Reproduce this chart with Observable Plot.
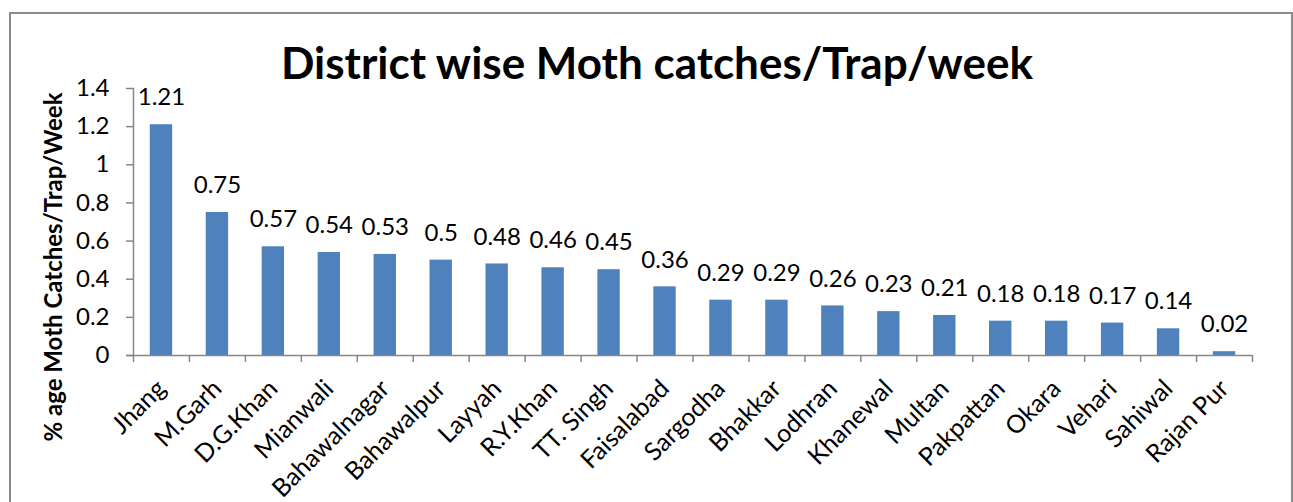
<!DOCTYPE html>
<html><head><meta charset="utf-8">
<script src="https://cdn.jsdelivr.net/npm/d3@7"></script>
<script src="https://cdn.jsdelivr.net/npm/@observablehq/plot@0.6"></script>
<style>
body{margin:0;background:#fff;}
#wrap{position:relative;width:1293px;height:502px;overflow:hidden;background:#fff;}
#frame{position:absolute;left:9px;top:12px;width:1284px;height:600px;border:2px solid #8c8c8c;box-sizing:border-box;pointer-events:none;}
#chart{position:absolute;left:0;top:0;}
</style></head><body>
<div id="wrap"><div id="chart"></div><div id="frame"></div></div>
<script>
const districts = ["Jhang","M.Garh","D.G.Khan","Mianwali","Bahawalnagar","Bahawalpur","Layyah","R.Y.Khan","TT. Singh","Faisalabad","Sargodha","Bhakkar","Lodhran","Khanewal","Multan","Pakpattan","Okara","Vehari","Sahiwal","Rajan Pur"];
const values = [1.21,0.75,0.57,0.54,0.53,0.5,0.48,0.46,0.45,0.36,0.29,0.29,0.26,0.23,0.21,0.18,0.18,0.17,0.14,0.02];
const yTicks = [0,0.2,0.4,0.6,0.8,1,1.2,1.4];
const title = "District wise Moth catches/Trap/week";
const yLabel = "% age Moth Catches/Trap/Week";

const data = districts.map((d,i)=>({district:d, value:values[i]}));
const W = 1293, H = 502, mL = 133, mR = 41, mT = 88, mB = 147;
const step = (W - mL - mR) / districts.length;
const axisColor = "#868686";
const font = "Lato, 'Open Sans', sans-serif";

const chart = Plot.plot({
  width: W, height: H,
  marginLeft: mL, marginRight: mR, marginTop: mT, marginBottom: mB,
  style: {fontFamily: font, fontSize: "24px", color: "#000", background: "transparent", overflow: "visible"},
  x: {domain: districts, paddingInner: 0.6, paddingOuter: 0.3, round: false, label: null},
  y: {domain: [0, 1.4], label: null},
  marks: [
    Plot.barY(data, {x: "district", y: "value", fill: "#4F81BD"}),
    Plot.text(data, {x: "district", y: "value", text: d => String(d.value), dy: -27, fontSize: 24, fill: "#000"}),
    Plot.frame({anchor: "left", stroke: axisColor, strokeWidth: 1.5}),
    Plot.ruleY([0], {stroke: axisColor, strokeWidth: 1.5, insetLeft: -7}),
    Plot.ruleX(districts, {x: d => d, y1: 0, y2: 0, insetBottom: -7, dx: -step/2, stroke: axisColor, strokeWidth: 1.5}),
    Plot.ruleX(districts.slice(-1), {x: d => d, y1: 0, y2: 0, insetBottom: -7, dx: step/2, stroke: axisColor, strokeWidth: 1.5}),
    Plot.axisY({ticks: yTicks, tickSize: 7, tickPadding: 17, tickFormat: d => String(d), stroke: axisColor, strokeWidth: 1.5, fontSize: 24, fill: "#000"}),
    Plot.axisX({tickSize: 0, tickRotate: -45, tickPadding: 29, fontSize: 25, fill: "#000"}),
    Plot.text([title], {frameAnchor: "top", lineAnchor: "middle", dy: -24, dx: -36, fontSize: 44, fontWeight: "bold", fill: "#000"}),
    Plot.text([yLabel], {frameAnchor: "left", textAnchor: "middle", lineAnchor: "middle", rotate: -90, dx: -79, dy: 45, fontSize: 24, fontWeight: "bold", fill: "#000"})
  ]
});
document.getElementById("chart").appendChild(chart);
</script>
</body></html>
